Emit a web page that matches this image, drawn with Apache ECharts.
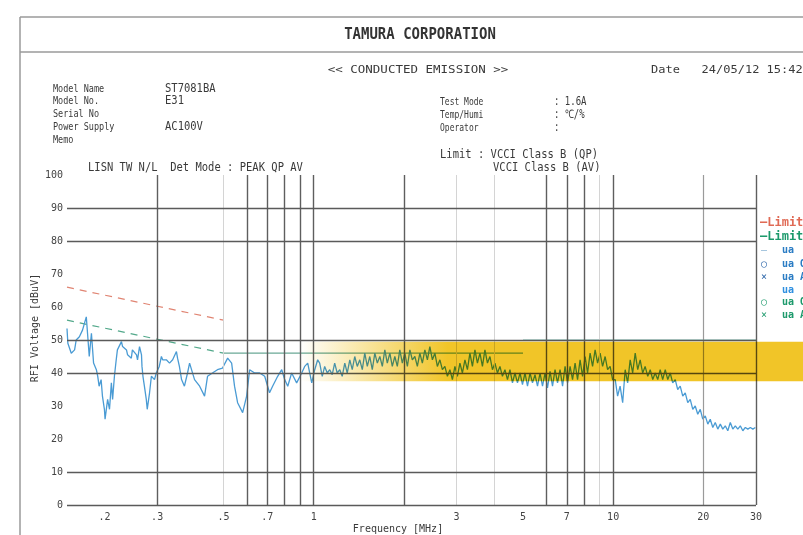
<!DOCTYPE html>
<html><head><meta charset="utf-8">
<script src="https://cdn.jsdelivr.net/npm/echarts@6/dist/echarts.min.js"></script>
<style>html,body{margin:0;padding:0;background:#fff}#c{width:803px;height:535px}</style>
</head><body><div id="c"></div>
<script>
// ---------- data ----------
const traceFreqMHz = [
0.150,0.151,0.155,0.159,0.161,0.165,0.169,0.174,0.175,0.178,0.181,0.182,0.184,0.186,0.188,0.190,0.192,0.195,0.197,0.200,
0.201,0.205,0.208,0.211,0.213,0.216,0.219,0.221,0.228,0.230,0.237,0.239,0.246,0.248,0.256,0.258,0.262,0.266,0.267,0.269,
0.272,0.276,0.278,0.283,0.287,0.294,0.298,0.305,0.310,0.313,0.322,0.330,0.338,0.348,0.351,0.356,0.362,0.370,0.379,0.385,
0.400,0.416,0.432,0.442,0.459,0.477,0.496,0.516,0.532,0.544,0.557,0.579,0.597,0.611,0.635,0.660,0.686,0.712,0.729,0.758,
0.782,0.800,0.819,0.844,0.877,0.912,0.933,0.955,0.985,1.008,1.031,
1.047,1.068,1.088,1.110,1.131,1.153,1.175,1.198,1.222,1.245,1.270,1.294,1.320,1.345,1.371,1.398,1.425,1.453,1.481,1.510,
1.539,1.569,1.600,1.631,1.663,1.695,1.728,1.761,1.796,1.830,1.866,1.902,1.939,1.977,2.015,2.055,2.095,2.135,2.177,2.219,
2.262,2.306,2.351,2.397,2.443,2.491,2.539,2.588,2.639,2.690,2.742,2.796,2.850,2.905,2.962,3.019,3.078,3.138,3.199,3.261,
3.324,3.389,3.455,3.522,3.591,3.660,3.731,3.804,3.878,3.953,4.030,4.108,4.188,4.269,4.352,4.437,4.523,4.611,4.700,4.792,
4.887,4.980,5.078,5.176,5.277,5.379,5.484,5.590,5.700,5.809,5.924,6.037,6.156,6.274,6.397,6.521,6.648,6.777,6.911,7.043,
7.181,7.319,7.463,7.606,7.755,7.905,8.061,8.215,8.377,8.537,8.706,8.873,9.048,9.221,9.403,9.583,9.772,9.961,10.16,10.35,
10.55,10.76,10.97,11.18,11.40,11.62,11.85,12.08,12.31,12.55,12.79,13.05,13.30,13.56,13.82,14.09,14.36,14.64,14.93,15.22,
15.51,15.81,16.12,16.43,16.75,17.08,17.41,17.75,18.09,18.45,18.80,19.17,19.54,19.92,20.31,20.71,21.10,21.52,21.93,22.36,
22.80,23.24,23.69,24.15,24.62,25.10,25.59,26.08,26.59,27.11,27.64,28.17,28.72,29.28,29.85
];
const traceLevel = [
53.5,49,46,47,50,51,53,57,54,45,52,49,43,43,41,39,36,38,33,29,
26,32,29,37,32,39,44,47,49.5,48,47,45.5,44.5,47,45.5,44,48,45.5,42,39,
36,32,29,34,39,38,40,42,45,44,44,43,44,46.5,44.5,42,38,36,40,43,
38,36,33,39,40,41,41.5,44.5,43,36,31,28,33,41,40,40,39,34,36,39,
41,38,36,40,37,40,42,43,37,41,44,
43,39,42,40,41,39.5,43,40,41,39,43,40,44,41,45,42,44,41,46,42,
45,41,46,43,45,42,47,43,46,42,45,42,47,43,46,42,47,44,45,42,
46,43,47,44,48,44,46,42,44,41,42,39,41,38,42,39,43,40,44,41,
46,42,47,43,46,42,47,43,45,41,43,40,42,39,41,38,41,37,40,37,
40,36.5,40,36,40,37,39.5,36,40,36,40,35.5,40.5,36,41,37,41,36,42,37,
42,38,43,38,44,39,45,40,46,42,47,43,46,42,45,41,42,38,38,33,
36,31,41,37,44,40,46,41,44,40,42,39,41,38,40,38,41,38,41,38,
40,37,38,35,36,33,34,31,32,29,30,27.5,29,26,27,24.5,26,23.5,25,23,
24.5,23,24,22.5,25,23,24,23,24,22.5,23.5,23,23.5,23,23.5
];
const qpLimitFreq = [0.15, 0.5];
const qpLimitLevel = [66, 56];
const avLimitSlopeFreq = [0.15, 0.5];
const avLimitSlopeLevel = [56, 46];
const avLimitMidFreq = [0.5, 5];
const avLimitMidLevel = [46, 46];
const avLimitHighFreq = [5, 30];
const avLimitHighLevel = [50, 50];
const xTickValues = [0.2, 0.3, 0.5, 0.7, 1, 3, 5, 7, 10, 20, 30];
const xTickLabels = ['.2', '.3', '.5', '.7', '1', '3', '5', '7', '10', '20', '30'];
const gridStrongMHz = [0.3, 0.6, 0.7, 0.8, 0.9, 1, 2, 6, 7, 8, 10, 30];
const gridMediumMHz = [20];
const gridFaintMHz = [0.5, 3, 4, 9];
const gridLevels = [90, 80, 50, 40, 10, 0];
const bandLevels = [37.5, 49.5];
const bandStartMHz = 0.9, bandFullMHz = 2.8;

// ---------- chart ----------
const MONO = '"DejaVu Sans Mono","Liberation Mono",monospace';
const chart = echarts.init(document.getElementById('c'));
const pairs = (fs, ls) => fs.map((f, i) => [f, ls[i]]);
const vl = (f, color, width) => ({ xAxis: f, lineStyle: { color, width, type: 'solid' } });
const hl = (v) => ({ yAxis: v, lineStyle: { color: '#5a5a5a', width: 1.4, type: 'solid' } });
const gridMarks = []
  .concat(gridFaintMHz.map(f => vl(f, '#d4d4d4', 1)))
  .concat(gridMediumMHz.map(f => vl(f, '#9a9a9a', 1.2)))
  .concat(gridStrongMHz.map(f => vl(f, '#5e5e5e', 1.4)))
  .concat(gridLevels.map(hl));

chart.setOption({
  animation: false,
  backgroundColor: '#ffffff',
  grid: { left: 67, right: 47, top: 175, bottom: 30 },
  xAxis: {
    type: 'log', logBase: 10, min: 0.15, max: 30,
    axisLine: { show: false }, axisTick: { show: false }, splitLine: { show: false },
    axisLabel: {
      customValues: xTickValues,
      formatter: v => { const i = xTickValues.findIndex(t => Math.abs(t - v) / t < 1e-6); return i >= 0 ? xTickLabels[i] : ''; },
      color: '#444', fontFamily: MONO, fontSize: 10, margin: 7
    }
  },
  yAxis: {
    type: 'value', min: 0, max: 100, interval: 10,
    axisLine: { show: false }, axisTick: { show: false }, splitLine: { show: false },
    axisLabel: { color: '#444', fontFamily: MONO, fontSize: 10, margin: 4 }
  },
  series: [
    { type: 'line', data: [], silent: true, z: 1,
      markLine: { silent: true, symbol: ['none', 'none'], label: { show: false }, animation: false, data: gridMarks } },
    { type: 'line', data: pairs(qpLimitFreq, qpLimitLevel), showSymbol: false, silent: true, z: 2,
      lineStyle: { color: '#e08472', width: 1.2, type: [7, 6] } },
    { type: 'line', data: pairs(avLimitSlopeFreq, avLimitSlopeLevel), showSymbol: false, silent: true, z: 2,
      lineStyle: { color: '#52a88a', width: 1.2, type: [7, 6] } },
    { type: 'line', data: pairs(avLimitMidFreq, avLimitMidLevel), showSymbol: false, silent: true, z: 2,
      lineStyle: { color: '#6aa896', width: 1.2 } },
    { type: 'line', data: pairs(avLimitHighFreq, avLimitHighLevel), showSymbol: false, silent: true, z: 2,
      lineStyle: { color: '#7cc0b4', width: 1.2 } },
    { type: 'line', data: pairs(traceFreqMHz, traceLevel), showSymbol: false, silent: true, z: 3,
      lineStyle: { color: '#4a9bd4', width: 1.3 } }
  ]
});

const px = (f, v) => chart.convertToPixel({ gridIndex: 0 }, [f, v]);
const bTop = px(1, bandLevels[1])[1], bBot = px(1, bandLevels[0])[1];
const bx0 = px(bandStartMHz, 40)[0], bxFull = px(bandFullMHz, 40)[0];
const W = 803;
const ratio = (bxFull - bx0) / (W - bx0);
const Y = 'rgba(241,197,40,';

const T = (text, x, y, o, sy) => ({ type: 'text', x, y, scaleY: sy || 1, silent: true, z: 50,
  style: Object.assign({ text, fill: '#3a3a3a', font: '10px ' + MONO, align: 'left', verticalAlign: 'middle',
    textAlign: 'left', textVerticalAlign: 'middle' }, o || {}) });
const C = (o) => Object.assign({ align: 'center', textAlign: 'center' }, o || {});
const NARROW = { font: '8.5px ' + MONO };
const SMALL = { font: '8px ' + MONO };

const els = [
  // frame
  { type: 'line', silent: true, shape: { x1: 20, y1: 17, x2: 20, y2: 535 }, style: { stroke: '#9a9a9a', lineWidth: 1.5 } },
  { type: 'line', silent: true, shape: { x1: 20, y1: 17, x2: 803, y2: 17 }, style: { stroke: '#9a9a9a', lineWidth: 1.5 } },
  { type: 'line', silent: true, shape: { x1: 20, y1: 52, x2: 803, y2: 52 }, style: { stroke: '#9a9a9a', lineWidth: 1.5 } },
  // highlight band
  { type: 'rect', silent: true, z: 100,
    shape: { x: bx0, y: bTop, width: W - bx0, height: bBot - bTop },
    style: { fill: { type: 'linear', x: 0, y: 0, x2: 1, y2: 0,
      colorStops: [{ offset: 0, color: Y + '0)' }, { offset: ratio, color: Y + '1)' }, { offset: 1, color: Y + '1)' }] },
      blend: 'multiply' } },
  // header
  T('TAMURA CORPORATION', 420, 35, C({ font: 'bold 14px ' + MONO, fill: '#333' }), 1.1),
  T('<< CONDUCTED EMISSION >>', 418, 70, C({ font: '12.5px ' + MONO }), 0.9),
  T('Date   24/05/12 15:42:14', 651, 70, { font: '12px ' + MONO }, 0.9),
  T('Model Name', 53, 89, NARROW, 1.3), T('Model No.', 53, 101, NARROW, 1.3), T('Serial No', 53, 114, NARROW, 1.3),
  T('Power Supply', 53, 127, NARROW, 1.3), T('Memo', 53, 140, NARROW, 1.3),
  T('ST7081BA', 165, 89, { font: '10.5px ' + MONO }, 1.1), T('E31', 165, 101, { font: '10.5px ' + MONO }, 1.1),
  T('AC100V', 165, 127, { font: '10.5px ' + MONO }, 1.1),
  T('Test Mode', 440, 102, SMALL, 1.4), T('Temp/Humi', 440, 115, SMALL, 1.4), T('Operator', 440, 128, SMALL, 1.4),
  T(': 1.6A', 554, 102, { font: '9px ' + MONO }, 1.3), T(': \u2103/%', 554, 115, { font: '9px ' + MONO }, 1.3),
  T(':', 554, 128, { font: '9px ' + MONO }, 1.3),
  T('Limit : VCCI Class B (QP)', 440, 155, { font: '10.5px ' + MONO }, 1.1),
  T('VCCI Class B (AV)', 493, 168, { font: '10.5px ' + MONO }, 1.1),
  T('LISN TW N/L  Det Mode : PEAK QP AV', 88, 168, { font: '10.5px ' + MONO }, 1.1),
  // axis titles
  { type: 'text', x: 35, y: 328, rotation: Math.PI / 2, silent: true, z: 50,
    style: { text: 'RFI Voltage [dBuV]', fill: '#3a3a3a', font: '10px ' + MONO, align: 'center', verticalAlign: 'middle',
      textAlign: 'center', textVerticalAlign: 'middle' } },
  T('Frequency [MHz]', 398, 529, C()),
  // legend (cut by the right edge)
  T('\u2014Limit', 760, 223, { fill: '#e06a55', font: 'bold 12px ' + MONO }),
  T('\u2014Limit', 760, 237, { fill: '#1d9a6c', font: 'bold 12px ' + MONO }),
  T('\u2014', 761, 250, { fill: '#8ab4d4' }), T('ua', 782, 250, { fill: '#2a7cc4', font: 'bold 10px ' + MONO }),
  T('\u25CB', 761, 264, { fill: '#2a64a8' }), T('ua Q', 782, 264, { fill: '#2a7cc4', font: 'bold 10px ' + MONO }),
  T('\u00D7', 761, 277, { fill: '#2a64a8' }), T('ua A', 782, 277, { fill: '#2a7cc4', font: 'bold 10px ' + MONO }),
  T('ua', 782, 290, { fill: '#2f8fe0', font: 'bold 10px ' + MONO }),
  T('\u25CB', 761, 302, { fill: '#1d9a6c' }), T('ua Q', 782, 302, { fill: '#1d9a6c', font: 'bold 10px ' + MONO }),
  T('\u00D7', 761, 315, { fill: '#1d9a6c' }), T('ua A', 782, 315, { fill: '#1d9a6c', font: 'bold 10px ' + MONO })
];
chart.setOption({ graphic: { elements: els } });
</script></body></html>
